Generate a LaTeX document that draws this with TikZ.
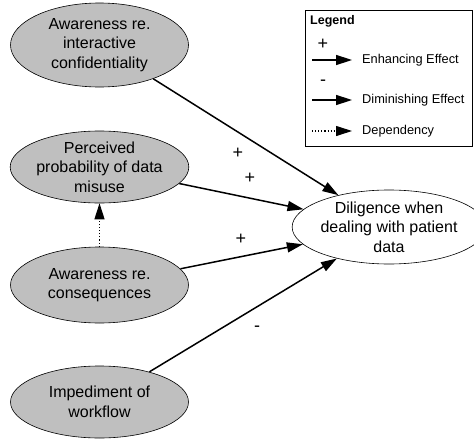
\documentclass[tikz,border=0pt]{standalone}
\usepackage{fontspec}
\setmainfont{Liberation Sans}
\usetikzlibrary{shapes.geometric,arrows.meta}
\begin{document}
\begin{tikzpicture}[x=1pt,y=-1pt,
  factor/.style={ellipse,draw=black,line width=0.6pt,fill=black!25,minimum width=178pt,minimum height=#1,inner sep=0pt,align=center,font=\fontsize{16}{19.5}\selectfont},
  target/.style={ellipse,draw=black,line width=0.6pt,fill=white,minimum width=168pt,minimum height=74pt,inner sep=0pt,align=center,font=\fontsize{16}{19.5}\selectfont},
  eff/.style={line width=1.5pt,-{Triangle[length=16pt,width=10pt]}},
  dep/.style={line width=1.1pt,dotted,-{Triangle[length=16pt,width=10pt]}},
  sgn/.style={font=\fontsize{18}{18}\selectfont,inner sep=0pt},
  legtxt/.style={font=\fontsize{12.8}{15}\selectfont,anchor=west,inner sep=0pt}]
\useasboundingbox (0,0) rectangle (474,439);
\node[factor=84pt] (e1) at (99.5,45) {Awareness re.\\interactive\\confidentiality};
\node[factor=72pt] (e2) at (99.5,167) {Perceived\\probability of data\\misuse};
\node[factor=76pt] (e3) at (99.5,285) {Awareness re.\\consequences};
\node[factor=72pt] (e4) at (99.5,402) {Impediment of\\workflow};
\node[target] (d) at (389,227) {Diligence when\\dealing with patient\\data};
\draw[eff] (e1) -- (d);
\draw[eff] (e2) -- (d);
\draw[eff] (e3) -- (d);
\draw[eff] (e4) -- (d);
\draw[dep] (e3) -- (e2);
\node[sgn] (s1) at (238,153) {+};
\node[sgn] (s2) at (250,178) {+};
\node[sgn] (s3) at (241,239) {+};
\node[sgn] (s4) at (257,329) {-};
% legend
\node[draw=black,line width=0.9pt,minimum width=167pt,minimum height=136pt,anchor=north west,inner sep=0pt] (leg) at (305,10) {};
\node[font=\bfseries\fontsize{12.5}{14}\selectfont,anchor=west,inner sep=0pt] (legt) at (310,21) {Legend};
\node[sgn] (lp) at (323,44) {+};
\coordinate (l1a) at (312,60);
\coordinate (l1b) at (352,60);
\draw[eff] (l1a) -- (l1b);
\node[legtxt] (l1t) at (362,60) {Enhancing Effect};
\node[sgn] (lm) at (323,83) {-};
\coordinate (l2a) at (312,100);
\coordinate (l2b) at (352,100);
\draw[eff] (l2a) -- (l2b);
\node[legtxt] (l2t) at (362,100) {Diminishing Effect};
\coordinate (l3a) at (312,131);
\coordinate (l3b) at (352,131);
\draw[dep] (l3a) -- (l3b);
\node[legtxt] (l3t) at (362,131) {Dependency};
\end{tikzpicture}
\end{document}
